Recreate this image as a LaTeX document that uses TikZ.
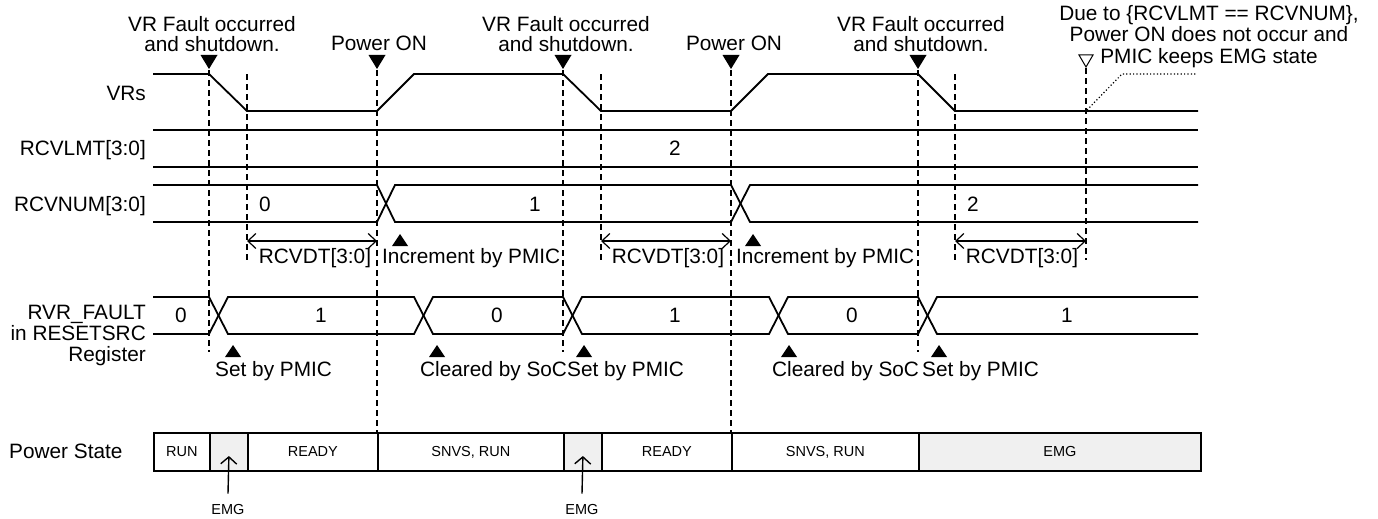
\documentclass[tikz,border=0pt]{standalone}
\usepackage{fontspec}
\setmainfont{Liberation Sans}
\usetikzlibrary{arrows.meta}
\definecolor{cellgray}{RGB}{240,240,240}
\newcommand{\dtri}[2]{\fill (#1-8.5,#2) -- ++(17,0) -- ++(-8.5,14) -- cycle;}
\newcommand{\utri}[2]{\fill (#1-8,#2) -- ++(16,0) -- ++(-8,-12) -- cycle;}
\begin{document}
\begin{tikzpicture}[x=1pt,y=-1pt,
  sig/.style={line width=1.8pt, line join=miter},
  guide/.style={line width=1.4pt, dash pattern=on 6pt off 4pt},
  lbl/.style={font=\fontsize{20.8}{20}\selectfont, inner sep=0pt},
  lblr/.style={font=\fontsize{20.8}{21}\selectfont, inner sep=0pt},
  lbld/.style={font=\fontsize{20.8}{21.5}\selectfont, inner sep=0pt},
  small/.style={font=\fontsize{14.5}{16}\selectfont, inner sep=0pt},
  dimline/.style={line width=1.2pt, {Straight Barb[length=8pt,width=15pt]}-{Straight Barb[length=8pt,width=15pt]}},
  cell/.style={draw, line width=1.8pt, minimum height=38pt, inner sep=0pt, anchor=west, font=\fontsize{14.5}{16}\selectfont},
  upar/.style={line width=1.4pt, -{Straight Barb[length=7pt,width=16pt]}},
]
\useasboundingbox (0,0) rectangle (1378,519);

% guide lines
\draw[guide] (209,70) -- (209,352);
\draw[guide] (247,74) -- (247,260);
\draw[guide] (377,70) -- (377,433);
\draw[guide] (563,70) -- (563,352);
\draw[guide] (601,74) -- (601,260);
\draw[guide] (731,70) -- (731,433);
\draw[guide] (918,70) -- (918,352);
\draw[guide] (955,74) -- (955,260);
\draw[guide] (1086,68) -- (1086,260);

% top markers
\dtri{209}{55}
\dtri{377}{55}
\dtri{563}{55}
\dtri{731}{55}
\dtri{918}{55}
\draw[line width=1pt] (1079,55) -- ++(14,0) -- ++(-7,12) -- cycle;

% top labels
\node[lbl, align=center, anchor=north] (vf1) at (212,16) {VR Fault occurred\\and shutdown.};
\node[lbl, align=center, anchor=north] (vf2) at (566,16) {VR Fault occurred\\and shutdown.};
\node[lbl, align=center, anchor=north] (vf3) at (921,16) {VR Fault occurred\\and shutdown.};
\node[lbl, anchor=base] (po1) at (379,51) {Power ON};
\node[lbl, anchor=base] (po2) at (734,51) {Power ON};
\node[lbld, align=center, anchor=north] (due) at (1209,5) {Due to \{RCVLMT == RCVNUM\},\\Power ON does not occur and\\PMIC keeps EMG state};

% row labels
\node[lbl, anchor=base east] (lvr) at (146,100) {VRs};
\node[lbl, anchor=base east] (llmt) at (146,155.5) {RCVLMT[3:0]};
\node[lbl, anchor=base east] (lnum) at (146,211) {RCVNUM[3:0]};
\node[lblr, align=right, anchor=north east] (lrvr) at (146,305) {RVR\_FAULT\\in RESETSRC\\Register};
\node[lbl, anchor=west] (lps) at (9,451) {Power State};

% VRs
\draw[sig] (153,74) -- (209,74) -- (247,111) -- (377,111) -- (414,74) -- (563,74) -- (601,111) -- (731,111) -- (768,74) -- (918,74) -- (955,111) -- (1198,111);
\draw[line width=1.2pt, dash pattern=on 1.2pt off 2.2pt] (1087,110) -- (1122,74) -- (1196,74);

% RCVLMT
\draw[sig] (153,130) -- (1198,130);
\draw[sig] (153,167) -- (1198,167);
\node[lbl, anchor=base] (v2) at (675,155.5) {2};

% RCVNUM
\draw[sig] (153,185) -- (377,185) -- (395,222) -- (731,222) -- (750,185) -- (1198,185);
\draw[sig] (153,222) -- (377,222) -- (395,185) -- (731,185) -- (750,222) -- (1198,222);
\node[lbl, anchor=base] (n0) at (265,211) {0};
\node[lbl, anchor=base] (n1) at (535,211) {1};
\node[lbl, anchor=base] (n2) at (973,211) {2};

% RCVDT
\draw[dimline] (247,241) -- (377,241);
\draw[dimline] (601,241) -- (731,241);
\draw[dimline] (955,241) -- (1086,241);
\node[lbl, anchor=base] (d1) at (315,263) {RCVDT[3:0]};
\node[lbl, anchor=base] (d2) at (668,263) {RCVDT[3:0]};
\node[lbl, anchor=base] (d3) at (1022,263) {RCVDT[3:0]};
\utri{400}{246}
\utri{753}{246}
\node[lbl, anchor=base west] (inc1) at (382,263) {Increment by PMIC};
\node[lbl, anchor=base west] (inc2) at (736,263) {Increment by PMIC};

% RVR_FAULT
\draw[sig] (153,297) -- (209,297) -- (228,334) -- (414,334) -- (433,297) -- (563,297) -- (582,334) -- (769,334) -- (788,297) -- (918,297) -- (937,334) -- (1198,334);
\draw[sig] (153,334) -- (209,334) -- (228,297) -- (414,297) -- (433,334) -- (563,334) -- (582,297) -- (769,297) -- (788,334) -- (918,334) -- (937,297) -- (1198,297);
\node[lbl, anchor=base] (r0a) at (181,322.5) {0};
\node[lbl, anchor=base] (r1a) at (321,322.5) {1};
\node[lbl, anchor=base] (r0b) at (497,322.5) {0};
\node[lbl, anchor=base] (r1b) at (675,322.5) {1};
\node[lbl, anchor=base] (r0c) at (852,322.5) {0};
\node[lbl, anchor=base] (r1c) at (1067,322.5) {1};
\utri{233}{357}
\utri{437}{357}
\utri{584}{357}
\utri{789}{357}
\utri{939}{357}
\node[lbl, anchor=base west] (s1) at (215,376) {Set by PMIC};
\node[lbl, anchor=base west] (c1) at (420,376) {Cleared by SoC};
\node[lbl, anchor=base west] (s2) at (567,376) {Set by PMIC};
\node[lbl, anchor=base west] (c2) at (772,376) {Cleared by SoC};
\node[lbl, anchor=base west] (s3) at (922,376) {Set by PMIC};

% Power state
\node[cell, minimum width=56pt] (ps1) at (153,452) {RUN};
\node[cell, minimum width=38pt, fill=cellgray] (ps2) at (209,452) {};
\node[cell, minimum width=130pt] (ps3) at (247,452) {READY};
\node[cell, minimum width=186pt] (ps4) at (377,452) {SNVS, RUN};
\node[cell, minimum width=38pt, fill=cellgray] (ps5) at (563,452) {};
\node[cell, minimum width=130pt] (ps6) at (601,452) {READY};
\node[cell, minimum width=187pt] (ps7) at (731,452) {SNVS, RUN};
\node[cell, minimum width=282pt, fill=cellgray] (ps8) at (918,452) {EMG};

\node[small, anchor=base] (e1) at (228,514) {EMG};
\node[small, anchor=base] (e2) at (582,514) {EMG};
\draw[upar] (e1.north) ++(0,-10) -- ([yshift=-4pt]ps2.center);
\draw[upar] (e2.north) ++(0,-10) -- ([yshift=-4pt]ps5.center);
\end{tikzpicture}
\end{document}
